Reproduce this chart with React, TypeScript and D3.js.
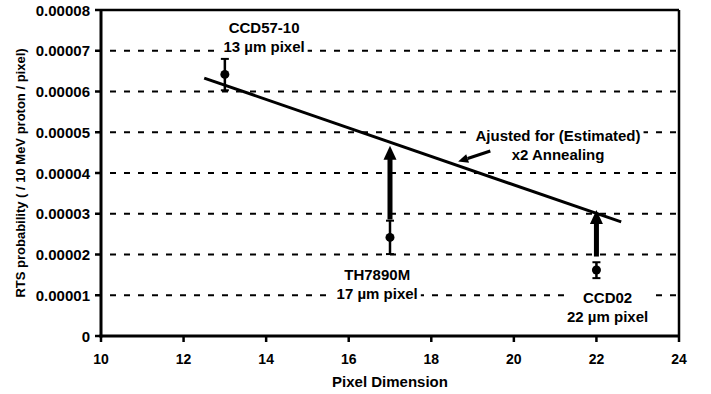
import React, { useEffect, useRef } from 'react';
import * as d3 from 'd3';

// ---- data ----
const pixelSizes = [13, 17, 22];
const rtsValues = [6.42e-5, 2.42e-5, 1.62e-5];
const errLow = [6.03e-5, 2.01e-5, 1.42e-5];
const errHigh = [6.8e-5, 2.83e-5, 1.81e-5];

const fitX = [12.5, 22.6];
const fitY = [6.33e-5, 2.8e-5];

const arrowX = [17, 22];
const arrowFrom = [2.86e-5, 1.95e-5];
const arrowTo = [4.67e-5, 3.09e-5];

const xTicks = [10, 12, 14, 16, 18, 20, 22, 24];
const yTicks = [0, 1e-5, 2e-5, 3e-5, 4e-5, 5e-5, 6e-5, 7e-5, 8e-5];
const yTickLabels = ['0', '0.00001', '0.00002', '0.00003', '0.00004', '0.00005', '0.00006', '0.00007', '0.00008'];

const labelLines = [
  ['CCD57-10', '13 \u00b5m pixel'],
  ['TH7890M', '17 \u00b5m pixel'],
  ['CCD02', '22 \u00b5m pixel'],
  ['Ajusted for (Estimated)', 'x2 Annealing'],
];
const labelX = [13.95, 16.69, 22.27, 21.07];
const labelY = [7.44e-5, 1.374e-5, 0.8e-5, 4.785e-5];

const noteArrowX = [19.43, 18.65];
const noteArrowY = [4.54e-5, 4.28e-5];

const xTitle = 'Pixel Dimension';
const yTitle = 'RTS probability ( / 10 MeV proton / pixel)';

const W = 711;
const H = 394;
const FONT = '"Liberation Sans", Arial, Helvetica, sans-serif';

export default function App() {
  const ref = useRef<SVGSVGElement | null>(null);

  useEffect(() => {
    const svg = d3.select(ref.current);
    svg.selectAll('*').remove();

    const x = d3.scaleLinear().domain([10, 24]).range([101, 679]);
    const y = d3.scaleLinear().domain([0, 8e-5]).range([336, 10]);

    const g = svg.append('g');

    // gridlines
    g.selectAll('line.grid')
      .data(yTicks.slice(1, -1))
      .join('line')
      .attr('x1', x(10) + 9)
      .attr('x2', x(24))
      .attr('y1', (d) => y(d))
      .attr('y2', (d) => y(d))
      .attr('stroke', '#000')
      .attr('stroke-width', 2)
      .attr('stroke-dasharray', '6,8');

    // label backgrounds + text
    const labelsG = svg.append('g');
    labelLines.forEach((lines, i) => {
      const lg = labelsG.append('g');
      const bg = lg.append('rect').attr('fill', '#fff');
      lines.forEach((t, j) => {
        lg.append('text')
          .attr('x', x(labelX[i]))
          .attr('y', y(labelY[i]) + j * 19)
          .attr('text-anchor', 'middle')
          .attr('font-family', FONT)
          .attr('font-weight', 'bold')
          .attr('font-size', 15)
          .text(t);
      });
      const bb = (lg.node() as SVGGElement).getBBox();
      bg.attr('x', bb.x - 3)
        .attr('y', bb.y)
        .attr('width', bb.width + 6)
        .attr('height', bb.height);
    });

    // frame
    const frame = svg.append('g');
    frame.append('line').attr('x1', x(10)).attr('x2', x(24)).attr('y1', y(8e-5)).attr('y2', y(8e-5))
      .attr('stroke', '#000').attr('stroke-width', 2.5);
    frame.append('line').attr('x1', x(24)).attr('x2', x(24)).attr('y1', y(8e-5)).attr('y2', y(0))
      .attr('stroke', '#000').attr('stroke-width', 2.5);
    frame.append('line').attr('x1', x(10)).attr('x2', x(10)).attr('y1', y(8e-5) - 1).attr('y2', y(0) + 1.5)
      .attr('stroke', '#000').attr('stroke-width', 3);
    frame.append('line').attr('x1', x(10) - 1.5).attr('x2', x(24) + 1).attr('y1', y(0)).attr('y2', y(0))
      .attr('stroke', '#000').attr('stroke-width', 3);

    // y ticks
    frame.selectAll('line.yt')
      .data(yTicks)
      .join('line')
      .attr('x1', x(10) - 6)
      .attr('x2', x(10))
      .attr('y1', (d) => y(d))
      .attr('y2', (d) => y(d))
      .attr('stroke', '#000')
      .attr('stroke-width', 2.5);
    frame.selectAll('text.yt')
      .data(yTicks)
      .join('text')
      .attr('x', x(10) - 11)
      .attr('y', (d) => y(d) + 5.5)
      .attr('text-anchor', 'end')
      .attr('font-family', FONT)
      .attr('font-weight', 'bold')
      .attr('font-size', 15)
      .text((d, i) => yTickLabels[i]);

    // x ticks
    frame.selectAll('line.xt')
      .data(xTicks)
      .join('line')
      .attr('x1', (d) => x(d))
      .attr('x2', (d) => x(d))
      .attr('y1', y(0))
      .attr('y2', y(0) + 6)
      .attr('stroke', '#000')
      .attr('stroke-width', 2.5);
    frame.selectAll('text.xt')
      .data(xTicks)
      .join('text')
      .attr('x', (d) => x(d))
      .attr('y', y(0) + 28)
      .attr('text-anchor', 'middle')
      .attr('font-family', FONT)
      .attr('font-weight', 'bold')
      .attr('font-size', 14)
      .text((d) => String(d));

    // titles
    svg.append('text')
      .attr('x', (x(10) + x(24)) / 2 - 0)
      .attr('y', 387)
      .attr('text-anchor', 'middle')
      .attr('font-family', FONT)
      .attr('font-weight', 'bold')
      .attr('font-size', 15)
      .text(xTitle);
    svg.append('text')
      .attr('transform', `translate(25,${(y(0) + y(8e-5)) / 2}) rotate(-90)`)
      .attr('text-anchor', 'middle')
      .attr('font-family', FONT)
      .attr('font-weight', 'bold')
      .attr('font-size', 13)
      .text(yTitle);

    // fit line
    const lineGen = d3.line<number>().x((d) => x(d)).y((d, i) => y(fitY[i]));
    svg.append('path')
      .attr('d', lineGen(fitX) as string)
      .attr('fill', 'none')
      .attr('stroke', '#000')
      .attr('stroke-width', 3);

    // big arrows
    arrowX.forEach((ax, i) => {
      const cx = x(ax);
      const y0 = y(arrowFrom[i]);
      const y1 = y(arrowTo[i]);
      const headLen = 14;
      const headHalf = 6.5;
      svg.append('rect')
        .attr('x', cx - 2.5)
        .attr('y', y1 + headLen - 1)
        .attr('width', 5)
        .attr('height', y0 - (y1 + headLen - 1))
        .attr('fill', '#000');
      svg.append('path')
        .attr('d', `M${cx},${y1} L${cx - headHalf},${y1 + headLen} L${cx + headHalf},${y1 + headLen} Z`)
        .attr('fill', '#000');
    });

    // annotation arrow
    {
      const x0 = x(noteArrowX[0]);
      const y0 = y(noteArrowY[0]);
      const x1 = x(noteArrowX[1]);
      const y1 = y(noteArrowY[1]);
      const ang = Math.atan2(y1 - y0, x1 - x0);
      const headLen = 10;
      const headHalf = 4.5;
      const bx = x1 - headLen * Math.cos(ang);
      const by = y1 - headLen * Math.sin(ang);
      svg.append('line')
        .attr('x1', x0).attr('y1', y0).attr('x2', bx).attr('y2', by)
        .attr('stroke', '#000').attr('stroke-width', 3);
      const px = -Math.sin(ang);
      const py = Math.cos(ang);
      svg.append('path')
        .attr('d', `M${x1},${y1} L${bx + px * headHalf},${by + py * headHalf} L${bx - px * headHalf},${by - py * headHalf} Z`)
        .attr('fill', '#000');
    }

    // error bars + markers
    pixelSizes.forEach((px, i) => {
      const cx = x(px);
      svg.append('line')
        .attr('x1', cx).attr('x2', cx).attr('y1', y(errLow[i])).attr('y2', y(errHigh[i]))
        .attr('stroke', '#000').attr('stroke-width', 2.5);
      [errLow[i], errHigh[i]].forEach((v) => {
        svg.append('line')
          .attr('x1', cx - 4).attr('x2', cx + 4).attr('y1', y(v)).attr('y2', y(v))
          .attr('stroke', '#000').attr('stroke-width', 2);
      });
      svg.append('circle')
        .attr('cx', cx)
        .attr('cy', y(rtsValues[i]))
        .attr('r', 4.5)
        .attr('fill', '#000');
    });
  }, []);

  return (
    <svg
      ref={ref}
      width={W}
      height={H}
      style={{ position: 'absolute', left: 0, top: 0, background: '#fff' }}
    />
  );
}
